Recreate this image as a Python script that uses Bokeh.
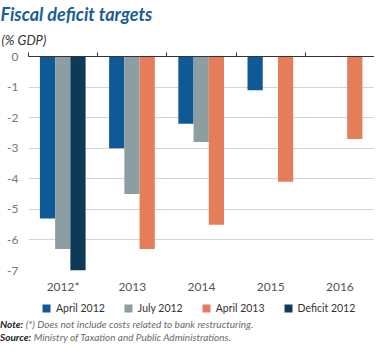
from bokeh.plotting import figure
from bokeh.models import (Range1d, LinearAxis, FixedTicker, Legend,
                          LegendItem, ColumnDataSource, Title, Div)
from bokeh.layouts import column
from bokeh.transform import dodge
from bokeh.embed import file_html
from bokeh.resources import INLINE

years = ["2012*", "2013", "2014", "2015", "2016"]
april_2012 = [-5.3, -3.0, -2.2, -1.1, None]
july_2012 = [-6.3, -4.5, -2.8, None, None]
april_2013 = [None, -6.3, -5.5, -4.1, -2.7]
deficit_2012 = [-7.0, None, None, None, None]
y_ticks = [0, -1, -2, -3, -4, -5, -6, -7]

series = [
    ("April 2012", april_2012, "#0f5a96", -0.225),
    ("July 2012", july_2012, "#8c9ea1", -0.005),
    ("April 2013", april_2013, "#e57d59", 0.215),
    ("Deficit 2012", deficit_2012, "#0d3b57", 0.215),
]

note_text = "(*) Does not include costs related to bank restructuring."
source_text = "Ministry of Taxation and Public Administrations."

FONT = "Lato"
W = 374
H1, H2, H3 = 296, 22, 26
TOP, BOTTOM, LEFT = 53, 22, 28
n = len(years)
centers = [i + 0.5 for i in range(n)]

p = figure(width=W, height=H1, x_range=Range1d(0, n),
           y_range=Range1d(-7.0, 0), output_backend="svg", toolbar_location=None,
           min_border_left=LEFT, min_border_right=0, min_border_top=TOP, min_border_bottom=BOTTOM)
p.outline_line_color = None

sources = []
for name, vals, color, off in series:
    xs = [c for c, v in zip(centers, vals) if v is not None]
    tops = [v for v in vals if v is not None]
    src = ColumnDataSource(dict(x=xs, top=tops))
    sources.append(src)
    p.vbar(x=dodge("x", off), top="top", bottom=0, width=0.22,
           source=src, fill_color=color, line_color=None)

# y axis
p.yaxis.ticker = FixedTicker(ticks=y_ticks)
p.yaxis.major_label_overrides = {t: str(t) for t in y_ticks}
p.yaxis.axis_line_color = None
p.yaxis.major_tick_line_color = None
p.yaxis.major_tick_out = 0
p.yaxis.minor_tick_line_color = None
p.yaxis.major_label_text_font = FONT
p.yaxis.major_label_text_font_size = "12px"
p.yaxis.major_label_text_color = "#777777"
p.yaxis.major_label_standoff = 10

# x axis (category labels)
p.xaxis.ticker = FixedTicker(ticks=centers)
p.xaxis.major_label_overrides = {c: y for c, y in zip(centers, years)}
p.xaxis.axis_line_color = None
p.xaxis.major_tick_line_color = None
p.xaxis.major_tick_out = 0
p.xaxis.minor_tick_line_color = None
p.xaxis.major_label_text_font = FONT
p.xaxis.major_label_text_font_size = "12px"
p.xaxis.major_label_text_color = "#555555"
p.xaxis.major_label_standoff = 8

p.xgrid.grid_line_color = None
p.ygrid.grid_line_color = "#d4d4d4"
p.ygrid.grid_line_width = 1
p.ygrid.ticker = FixedTicker(ticks=[-1, -2, -3, -4, -5, -6, -7])

# zero line with category-separating ticks on top
top_axis = LinearAxis(ticker=FixedTicker(ticks=list(range(n + 1))),
                      axis_line_color="#333333", major_tick_line_color="#333333",
                      major_tick_out=4, major_tick_in=0, minor_tick_line_color=None,
                      major_label_text_font_size="6px", major_label_text_color=None,
                      major_label_standoff=0)
p.add_layout(top_axis, "above")

subtitle = Title(text="(% GDP)", align="left", offset=-LEFT + 1, standoff=10,
                 text_font=FONT, text_font_size="13px", text_font_style="italic",
                 text_color="#333333")
p.add_layout(subtitle, "above")
p.title = Title(text="Fiscal deficit targets", align="left", offset=-LEFT, standoff=0,
                text_font=FONT, text_font_size="18px", text_font_style="bold italic",
                text_color="#1b5d96")
p.title_location = "above"

# legend strip (bars of the same data fall outside this strip's view; only swatches show)
p2 = figure(width=W, height=H2, x_range=p.x_range, y_range=Range1d(1, 2),
            x_axis_location=None, y_axis_location=None, output_backend="svg",
            toolbar_location=None, min_border=0)
p2.outline_line_color = None
p2.grid.visible = False

items = []
for (name, vals, color, off), src in zip(series, sources):
    r = p2.vbar(x=dodge("x", off), top="top", bottom=0, width=0.22, source=src,
                fill_color=color, line_color=None)
    items.append(LegendItem(label=name, renderers=[r]))

legend = Legend(items=items, orientation="horizontal", location=(13, 4),
                label_text_font=FONT, label_text_font_size="10.5px", label_text_color="#333333",
                glyph_width=10, glyph_height=10, label_height=12, label_standoff=5, spacing=18,
                padding=0, margin=0, border_line_color=None, background_fill_alpha=0)
p2.add_layout(legend)

notes = Div(
    text=("<b><i>Note:</i></b> <i style='color:#6a6a6a'>" + note_text + "</i><br>"
          "<b><i>Source:</i></b> <i style='color:#6a6a6a'>" + source_text + "</i>"),
    width=W, height=H3, margin=(0, 0, 0, 0),
    styles={"font-family": FONT, "font-size": "10px", "line-height": "13px",
            "color": "#222222"})

layout = column(p, p2, notes, spacing=0)
open("out.html", "w").write(file_html(layout, INLINE))
